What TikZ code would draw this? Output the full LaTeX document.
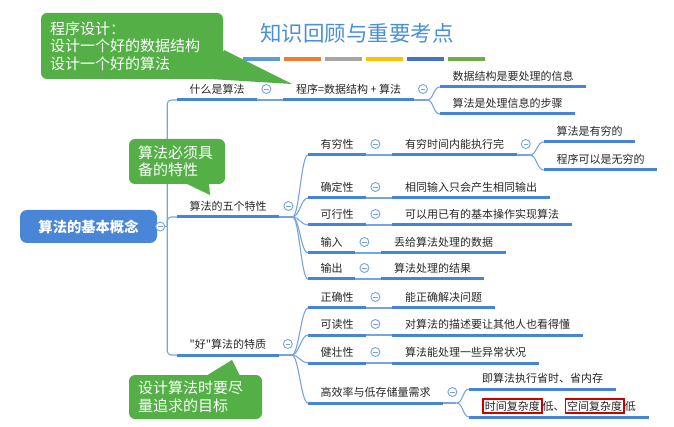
\documentclass[tikz,border=0pt]{standalone}
\usepackage{fontspec}
\newfontfamily\cjk{Noto Sans CJK SC}
\usepackage{xcolor}
\usepackage{tikz}
\usetikzlibrary{positioning, calc}
\definecolor{rootblue}{RGB}{74,134,216}
\definecolor{ulblue}{RGB}{70,132,214}
\definecolor{linkblue}{RGB}{118,163,228}
\definecolor{notegreen}{RGB}{84,176,70}
\definecolor{headblue}{RGB}{74,144,217}
\definecolor{boxred}{RGB}{204,0,0}
\definecolor{barA}{RGB}{91,155,213}
\definecolor{barB}{RGB}{237,125,49}
\definecolor{barC}{RGB}{165,165,165}
\definecolor{barD}{RGB}{255,192,0}
\definecolor{barE}{RGB}{68,114,196}
\definecolor{barF}{RGB}{112,173,71}
\newcommand{\hot}[1]{{\setlength{\fboxsep}{1.2pt}\setlength{\fboxrule}{1.5pt}\fcolorbox{boxred}{white}{#1}}}
\tikzset{root/.style={rectangle,rounded corners=7pt,fill=rootblue,text=white,font=\cjk\fontsize{14.3}{16}\selectfont\bfseries,minimum width=137pt,minimum height=33pt},
         topic/.style={anchor=south west,inner xsep=12.5pt,inner ysep=4pt,text height=8.5pt,text depth=2.5pt,text=black!85,font=\cjk\fontsize{11}{13}\selectfont,
                       append after command={(\tikzlastnode.south west) edge[uline] (\tikzlastnode.south east)}},
         uline/.style={draw=ulblue,line width=3pt},
         link/.style={draw=linkblue,line width=1.1pt},
         fold/.style={circle,draw=linkblue,fill=white,line width=0.9pt,minimum size=9pt,inner sep=0pt,
                      path picture={\draw[linkblue,line width=0.9pt] ([xshift=-2.3pt]path picture bounding box.center) -- ([xshift=2.3pt]path picture bounding box.center);}},
         note/.style={rectangle,rounded corners=6pt,fill=notegreen,text=white,align=left,inner xsep=9pt,font=\cjk\fontsize{15}{17.5}\selectfont},
         heading/.style={text=headblue,font=\cjk\fontsize{21.5}{24}\selectfont}}

\begin{document}
\begin{tikzpicture}[x=1pt,y=-1pt]
    \useasboundingbox (0,0) rectangle (674,427);
    \node[heading] (head) at (357,33) {知识回顾与重要考点};
    \foreach \c [count=\i from 0] in {barA,barB,barC,barD,barE,barF}
      \draw[line width=3.5pt,\c] ({243+41*\i},59) -- ++(37,0);

    \node[root] (root) at (88.5,226.5) {算法的基本概念};

    % what is an algorithm
    \node[topic] (what) at (177,100) {什么是算法};
    \node[topic, right=26pt of what] (prog) {程序=数据结构 + 算法};
    \node[topic] (data) at ($(prog.south east)+(26,-13)$) {数据结构是要处理的信息};
    \node[topic] (step) at ($(prog.south east)+(26,14)$) {算法是处理信息的步骤};

    % five properties
    \node[topic] (five) at (177,217) {算法的五个特性};
    \node[topic] (fin) at (308,155) {有穷性};
    \node[topic, right=26pt of fin] (finT) {有穷时间内能执行完};
    \node[topic] (finA) at ($(finT.south east)+(27,-13)$) {算法是有穷的};
    \node[topic] (finB) at ($(finT.south east)+(27,15)$) {程序可以是无穷的};
    \node[topic] (det) at (308,198) {确定性};
    \node[topic, right=26pt of det] (detT) {相同输入只会产生相同输出};
    \node[topic] (feas) at (308,225) {可行性};
    \node[topic, right=26pt of feas] (feasT) {可以用已有的基本操作实现算法};
    \node[topic] (inp) at (308,253) {输入};
    \node[topic, right=26pt of inp] (inpT) {丢给算法处理的数据};
    \node[topic] (outp) at (308,279) {输出};
    \node[topic, right=26pt of outp] (outpT) {算法处理的结果};

    % a good algorithm
    \node[topic] (good) at (177,355) {"好"算法的特质};
    \node[topic] (corr) at (308,308) {正确性};
    \node[topic, right=26pt of corr] (corrT) {能正确解决问题};
    \node[topic] (read) at (308,335) {可读性};
    \node[topic, right=26pt of read] (readT) {对算法的描述要让其他人也看得懂};
    \node[topic] (robust) at (308,363) {健壮性};
    \node[topic, right=26pt of robust] (robustT) {算法能处理一些异常状况};
    \node[topic] (eff) at (308,403) {高效率与低存储量需求};
    \node[topic] (effA) at ($(eff.south east)+(26,-14)$) {即算法执行省时、省内存};
    \node[topic] (effB) at ($(eff.south east)+(26,14)$) {\hot{时间复杂度}低、\hot{空间复杂度}低};

    % connectors
    \coordinate (trunk) at ($(root.east)+(10,0)$);
    \draw[link] (root.east) -- (trunk);
    \foreach \c in {what,five,good}
      \draw[link,rounded corners=4pt] (trunk) |- (\c.south west);
    \foreach \a/\b in {what/prog,fin/finT,det/detT,feas/feasT,inp/inpT,outp/outpT,corr/corrT,read/readT,robust/robustT}
      \draw[link] (\a.south east) -- (\b.south west);
    \foreach \p/\kids in {prog/{data,step},five/{fin,det,feas,inp,outp},finT/{finA,finB},good/{corr,read,robust,eff},eff/{effA,effB}} {
      \draw[link] (\p.south east) -- ++(13,0) coordinate (\p-x);
      \foreach \c in \kids
        \draw[link] (\p-x) .. controls +(7,0) and +(-7,0) .. (\c.south west);
    }
    \node[fold] (root-f) at ($(root.east)+(3,0)$) {};
    \foreach \n in {what,prog,five,fin,finT,det,feas,inp,outp,good,corr,read,robust,eff}
      \node[fold] (\n-f) at ($(\n.south east)+(9,-11)$) {};

    % notes
    \fill[notegreen] (224,50) -- (292,84) -- (210,79) -- cycle;
    \node[note, text width=164pt, minimum height=66pt] (n1) at (132,46) {程序设计：\\设计一个好的数据结构\\设计一个好的算法};
    \fill[notegreen] (185,183) -- (210,195) -- (209,183) -- cycle;
    \node[note, text width=78pt, minimum height=45pt] (n2) at (177,161.5) {算法必须具\\备的特性};
    \fill[notegreen] (206,376) -- (232,360) -- (240,376) -- cycle;
    \node[note, text width=115pt, minimum height=44pt] (n3) at (195.5,397) {设计算法时要尽\\量追求的目标};
\end{tikzpicture}
\end{document}
